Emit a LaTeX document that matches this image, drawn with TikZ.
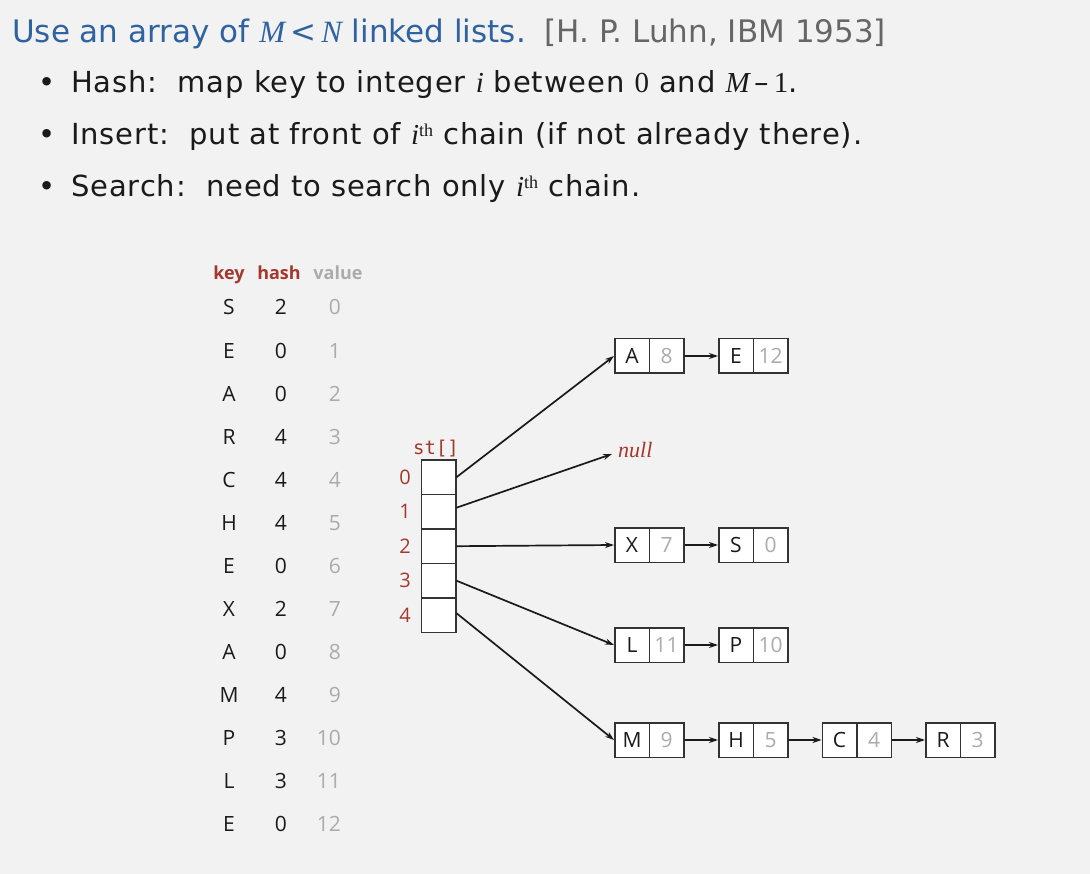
\documentclass[tikz,border=0pt]{standalone}
\usepackage{fontspec}
\setmainfont{Open Sans}
\newfontfamily\headface{DejaVu Sans}
\newfontfamily\bulletface[LetterSpace=3]{DejaVu Sans}
\newfontfamily\serifface{Liberation Serif}
\setmonofont{DejaVu Sans Mono}
\usetikzlibrary{arrows.meta}
\definecolor{bg}{HTML}{F2F2F2}
\definecolor{titleblue}{HTML}{2E62A0}
\definecolor{refgray}{HTML}{666666}
\definecolor{keyred}{HTML}{A3382E}
\definecolor{valgray}{HTML}{ABABAB}
\definecolor{boxline}{HTML}{333333}
\definecolor{txt}{HTML}{1A1A1A}
\newcommand{\mvar}[1]{{\serifface\itshape #1}}
\newcommand{\mnum}[1]{{\serifface #1}}
\newcommand{\ith}{\mvar{i}\raisebox{8pt}{\serifface\fontsize{18}{19}\selectfont th}}
\begin{document}
\begin{tikzpicture}[x=1pt,y=-1pt,
  titletxt/.style={anchor=base west, inner sep=0pt, font=\fontsize{31}{36}\selectfont\headface},
  bullettxt/.style={anchor=base west, inner sep=0pt, text=txt, font=\fontsize{29}{34}\selectfont\bulletface},
  headtxt/.style={anchor=base, inner sep=0pt, text=keyred, font=\fontsize{18}{22}\selectfont\bfseries},
  tabtxt/.style={anchor=base, inner sep=0pt, text=txt, font=\fontsize{21}{25}\selectfont},
  valtxt/.style={anchor=base east, inner sep=0pt, text=valgray, font=\fontsize{21}{25}\selectfont},
  idxtxt/.style={anchor=base, inner sep=0pt, text=keyred, font=\fontsize{20}{24}\selectfont},
  cell/.style={draw=boxline, fill=white, line width=1.5pt, minimum width=34.5pt, minimum height=34.5pt, inner sep=0pt, text=txt, font=\fontsize{21}{25}\selectfont},
  vcell/.style={cell, text=valgray},
  arr/.style={draw=txt, line width=1.7pt, -{Stealth[length=9pt,width=6pt]}},
]
\fill[bg] (0,0) rectangle (1090,874);
\useasboundingbox (0,0) rectangle (1090,874);

% title
\node[titletxt, text=titleblue] (title) at (12,43) {Use an array of \mvar{M}\,<\,\mvar{N} linked lists.\hspace{0.6em}\textcolor{refgray}{[H. P. Luhn, IBM 1953]}};

% bullets
\node[bullettxt] (b1) at (38,93) {\textbullet\hspace{0.55em}Hash:\ \ map key to integer \mvar{i} between \mnum{0} and \mvar{M}\,–\,\mnum{1}.};
\node[bullettxt] (b2) at (38,145) {\textbullet\hspace{0.55em}Insert:\ \ put at front of \ith\ chain (if not already there).};
\node[bullettxt] (b3) at (38,197) {\textbullet\hspace{0.55em}Search:\ \ need to search only \ith\ chain.};

% table
\node[headtxt] (hk) at (229,280) {key};
\node[headtxt] (hh) at (279,280) {hash};
\node[headtxt, text=valgray] (hv) at (338,280) {value};
\foreach \k/\h [count=\i from 0] in {S/2,E/0,A/0,R/4,C/4,H/4,E/0,X/2,A/0,M/4,P/3,L/3,E/0}{
  \node[tabtxt] (key\i) at (229,{315+43.08*\i}) {\k};
  \node[tabtxt] (hash\i) at (281,{315+43.08*\i}) {\h};
  \node[valtxt] (val\i) at (341,{315+43.08*\i}) {\i};
}

% array
\node[anchor=base, inner sep=0pt, text=keyred, font=\fontsize{19}{22}\selectfont\ttfamily] (stlabel) at (436,455) {st[]};
\foreach \i in {0,...,4}{
  \node[cell] (st\i) at (438.5,{477.2+34.5*\i}) {};
  \node[idxtxt] (idx\i) at (405,{484+34.5*\i}) {\i};
}

% chains
\foreach \name/\k/\v/\x/\y in {a1/A/8/632/356, a2/E/12/736/356,
  x1/X/7/632/545, x2/S/0/736/545,
  l1/L/11/632/645, l2/P/10/736/645,
  m1/M/9/632/740, m2/H/5/736/740, m3/C/4/839.5/740, m4/R/3/943/740}{
  \node[cell] (k\name) at (\x,\y) {\k};
  \node[vcell] (v\name) at ({\x+34.5},\y) {\v};
}

% null
\node[anchor=base west, inner sep=0pt, text=keyred, font=\fontsize{22}{26}\selectfont\serifface\itshape] (null) at (618,457) {null};
\coordinate (nullend) at (612,454);

% pointers from array
\draw[arr] (st0.east) -- (ka1.west);
\draw[arr] ([yshift=4pt]st1.east) -- (nullend);
\draw[arr] (st2.east) -- (kx1.west);
\draw[arr] (st3.east) -- (kl1.west);
\draw[arr] ([yshift=2pt]st4.east) -- (km1.west);

% chain links
\draw[arr] (va1.east) -- (ka2.west);
\draw[arr] (vx1.east) -- (kx2.west);
\draw[arr] (vl1.east) -- (kl2.west);
\draw[arr] (vm1.east) -- (km2.west);
\draw[arr] (vm2.east) -- (km3.west);
\draw[arr] (vm3.east) -- (km4.west);
\end{tikzpicture}
\end{document}
